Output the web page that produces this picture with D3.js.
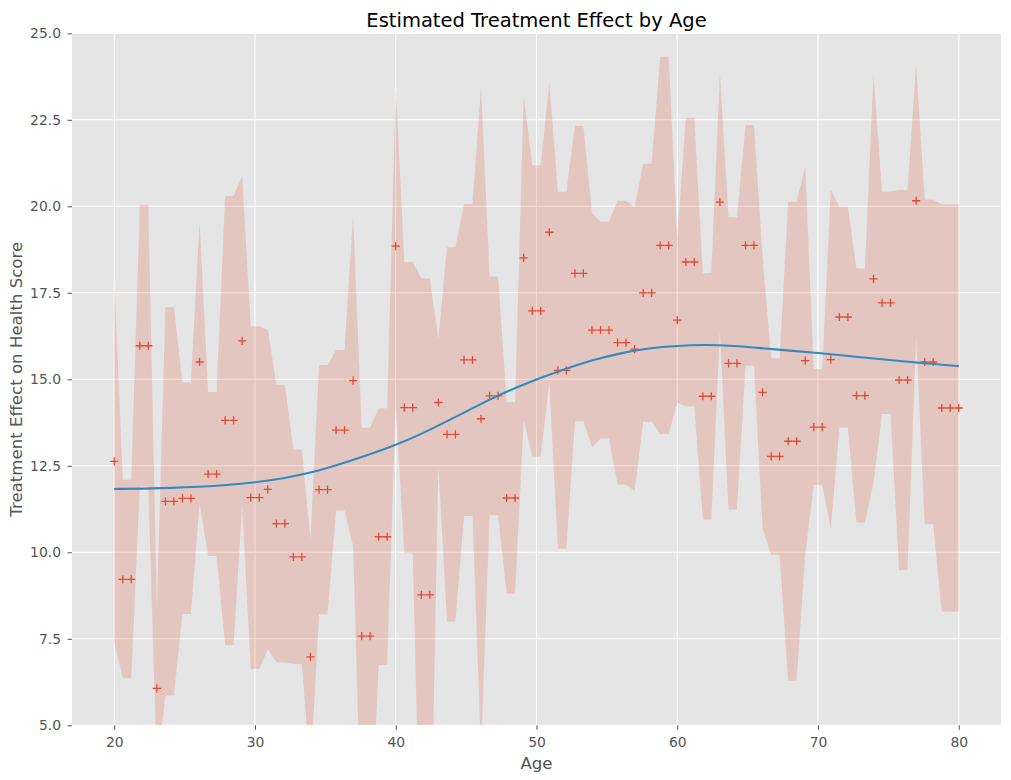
<!DOCTYPE html>
<html>
<head>
<meta charset="utf-8">
<script src="https://cdn.jsdelivr.net/npm/d3@7"></script>
<style>
  body { margin: 0; background: #fff; }
  svg text { font-family: "DejaVu Sans", sans-serif; }
</style>
</head>
<body>
<div id="chart"></div>
<script>
// integer ages that carry an estimate
let ages = d3.range(20, 81);

// estimated effect per integer age (20..80)
let effectByAge = [12.63, 9.22, 15.97, 6.07, 11.47, 11.56, 15.50, 12.26, 13.81, 16.11,
    11.58, 11.82, 10.83, 9.87, 6.98, 11.81, 13.53, 14.96, 7.58, 10.45,
    18.85, 14.18, 8.77, 14.33, 13.41, 15.56, 13.86, 14.52, 11.57, 18.51,
    16.98, 19.25, 15.26, 18.06, 16.42, 16.42, 16.06, 15.87, 17.50, 18.87,
    16.71, 18.39, 14.51, 20.12, 15.46, 18.87, 14.62, 12.77, 13.21, 15.54,
    13.62, 15.57, 16.80, 14.53, 17.90, 17.21, 14.98, 20.16, 15.50, 14.17,
    14.17];

let upperByAge = [17.85, 12.10, 20.04, 8.40, 17.08, 14.90, 19.57, 14.63, 20.30, 20.87,
    16.53, 16.44, 14.84, 12.97, 10.37, 15.41, 15.85, 19.74, 13.60, 14.16,
    23.45, 18.39, 17.92, 16.15, 18.82, 20.07, 23.44, 17.97, 14.34, 23.20,
    21.19, 23.59, 20.42, 22.33, 19.80, 19.55, 20.16, 19.97, 21.23, 24.32,
    19.10, 22.56, 18.07, 23.85, 19.68, 22.35, 18.55, 15.61, 20.13, 21.15,
    15.29, 20.48, 19.99, 18.20, 23.81, 20.42, 20.48, 24.10, 20.19, 20.06,
    20.06];

let lowerByAge = [7.40, 6.36, 11.90, 3.74, 5.86, 8.22, 11.43, 9.89, 7.32, 11.35,
    6.63, 7.20, 6.82, 6.77, 3.59, 8.21, 11.21, 10.18, 1.56, 6.74,
    14.25, 9.97, -0.38, 12.51, 8.00, 11.05, 4.28, 11.07, 8.80, 13.82,
    12.77, 14.91, 10.10, 13.79, 13.04, 13.29, 11.96, 11.77, 13.77, 13.42,
    14.32, 14.22, 10.95, 16.39, 11.24, 15.39, 10.70, 9.93, 6.29, 9.93,
    11.95, 10.66, 13.61, 10.86, 11.99, 14.00, 9.48, 16.22, 10.81, 8.28,
    8.28];

// ages at which the estimate was plotted
let sampleAges = [20.00, 20.61, 21.21, 21.82, 22.42, 23.03, 23.64, 24.24, 24.85, 25.45,
    26.06, 26.67, 27.27, 27.88, 28.48, 29.09, 29.70, 30.30, 30.91, 31.52,
    32.12, 32.73, 33.33, 33.94, 34.55, 35.15, 35.76, 36.36, 36.97, 37.58,
    38.18, 38.79, 39.39, 40.00, 40.61, 41.21, 41.82, 42.42, 43.03, 43.64,
    44.24, 44.85, 45.45, 46.06, 46.67, 47.27, 47.88, 48.48, 49.09, 49.70,
    50.30, 50.91, 51.52, 52.12, 52.73, 53.33, 53.94, 54.55, 55.15, 55.76,
    56.36, 56.97, 57.58, 58.18, 58.79, 59.39, 60.00, 60.61, 61.21, 61.82,
    62.42, 63.03, 63.64, 64.24, 64.85, 65.45, 66.06, 66.67, 67.27, 67.88,
    68.48, 69.09, 69.70, 70.30, 70.91, 71.52, 72.12, 72.73, 73.33, 73.94,
    74.55, 75.15, 75.76, 76.36, 76.97, 77.58, 78.18, 78.79, 79.39, 80.00];

// smooth trend
let trendAges = [20, 22, 24, 26, 28, 30, 32, 34, 36, 38, 40, 42, 44, 46, 48, 50,
    52, 54, 56, 58, 60, 62, 64, 66, 68, 70, 72, 74, 76, 78, 80];
let trendValues = [11.83, 11.84, 11.86, 11.89, 11.94, 12.02, 12.13, 12.30, 12.54, 12.81,
    13.10, 13.45, 13.86, 14.28, 14.67, 15.00, 15.30, 15.56, 15.76, 15.90,
    15.97, 16.00, 15.97, 15.90, 15.83, 15.76, 15.68, 15.60, 15.52, 15.45, 15.38];

let xTicks = [20, 30, 40, 50, 60, 70, 80];
let yTicks = [5, 7.5, 10, 12.5, 15, 17.5, 20, 22.5, 25];

const W = 1011, H = 780;
const mLeft = 72, mRight = 1001, mTop = 33.3, mBottom = 725.3;

let rows = sampleAges.map(a => {
    let k = ages.indexOf(Math.round(a));
    return {age: a, effect: effectByAge[k], lo: lowerByAge[k], hi: upperByAge[k]};
});
let trend = trendAges.map((a, i) => ({age: a, value: trendValues[i]}));

let svg = d3.select("#chart").append("svg")
    .attr("width", W)
    .attr("height", H);

let x = d3.scaleLinear().domain([17, 83]).range([mLeft, mRight]);
let y = d3.scaleLinear().domain([5, 25]).range([mBottom, mTop]);

svg.append("clipPath").attr("id", "plotclip")
    .append("rect")
    .attr("x", mLeft).attr("y", mTop)
    .attr("width", mRight - mLeft).attr("height", mBottom - mTop);

// panel background
svg.append("rect")
    .attr("x", mLeft).attr("y", mTop)
    .attr("width", mRight - mLeft).attr("height", mBottom - mTop)
    .style("fill", "#e5e5e5");

// grid
svg.append("g").selectAll("line")
    .data(xTicks).enter().append("line")
    .attr("x1", d => x(d)).attr("x2", d => x(d))
    .attr("y1", mTop).attr("y2", mBottom)
    .style("stroke", "#fff").style("stroke-width", 1.1);
svg.append("g").selectAll("line")
    .data(yTicks).enter().append("line")
    .attr("x1", mLeft).attr("x2", mRight)
    .attr("y1", d => y(d)).attr("y2", d => y(d))
    .style("stroke", "#fff").style("stroke-width", 1.1);

let plot = svg.append("g").attr("clip-path", "url(#plotclip)");

// confidence band
let band = d3.area()
    .x(d => x(d.age))
    .y0(d => y(d.lo))
    .y1(d => y(d.hi));
plot.append("path")
    .datum(rows)
    .attr("d", band)
    .style("fill", "#E24A33")
    .style("fill-opacity", 0.2)
    .style("stroke", "none");

// + markers
let s = 4.1;
plot.append("g").selectAll("path")
    .data(rows).enter().append("path")
    .attr("d", d => {
        let cx = x(d.age), cy = y(d.effect);
        return "M" + (cx - s) + "," + cy + "H" + (cx + s) + "M" + cx + "," + (cy - s) + "V" + (cy + s);
    })
    .style("stroke", "#E24A33")
    .style("stroke-width", 1.3)
    .style("fill", "none");

// trend line
plot.append("path")
    .datum(trend)
    .attr("d", d3.line().x(d => x(d.age)).y(d => y(d.value)).curve(d3.curveBasis))
    .style("fill", "none")
    .style("stroke", "#348ABD")
    .style("stroke-width", 2.1);

// axes
let xAxis = svg.append("g")
    .attr("transform", "translate(0," + mBottom + ")")
    .call(d3.axisBottom(x).tickValues(xTicks).tickFormat(d3.format("d")).tickSize(4.5).tickPadding(7.4));
let yAxis = svg.append("g")
    .attr("transform", "translate(" + mLeft + ",0)")
    .call(d3.axisLeft(y).tickValues(yTicks).tickFormat(d3.format(".1f")).tickSize(4.5).tickPadding(6.5));

[xAxis, yAxis].forEach(g => {
    g.select(".domain").remove();
    g.selectAll(".tick line").style("stroke", "#555555").style("stroke-width", 1);
    g.selectAll(".tick text")
        .style("fill", "#555555")
        .style("font-size", "13.9px")
        .style("font-family", "DejaVu Sans, sans-serif");
});

// labels
svg.append("text")
    .attr("x", (mLeft + mRight) / 2).attr("y", 26.5)
    .attr("text-anchor", "middle")
    .style("font-size", "19.5px")
    .style("fill", "#000")
    .text("Estimated Treatment Effect by Age");

svg.append("text")
    .attr("x", (mLeft + mRight) / 2).attr("y", 768.5)
    .attr("text-anchor", "middle")
    .style("font-size", "16.6px")
    .style("fill", "#555555")
    .text("Age");

svg.append("text")
    .attr("transform", "translate(22," + ((mTop + mBottom) / 2) + ") rotate(-90)")
    .attr("text-anchor", "middle")
    .style("font-size", "16.6px")
    .style("fill", "#555555")
    .text("Treatment Effect on Health Score");
</script>
</body>
</html>
